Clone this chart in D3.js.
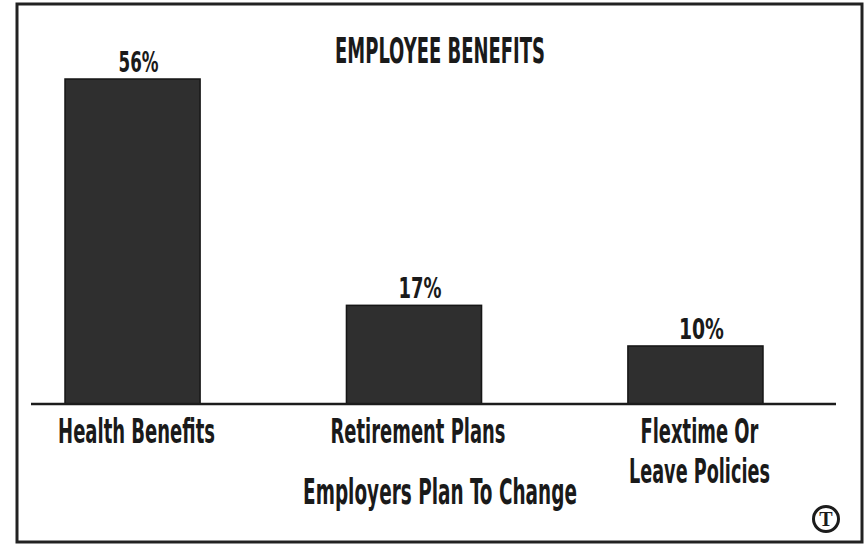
<!DOCTYPE html>
<html>
<head>
<meta charset="utf-8">
<script src="https://cdn.jsdelivr.net/npm/d3@7"></script>
<style>
  body { margin: 0; background: #fff; }
  text { font-family: "Liberation Sans Narrow", "DejaVu Sans Condensed", "Liberation Sans", sans-serif; font-weight: bold; fill: #1a1a1a; }
</style>
</head>
<body>
<div id="container"></div>
<script>
/***** data *****/
const categories = ["Health Benefits", "Retirement Plans", "Flextime Or\nLeave Policies"];
const values = [56, 17, 10];
const valueLabels = ["56%", "17%", "10%"];
const title = "EMPLOYEE BENEFITS";
const xTitle = "Employers Plan To Change";

/***** chart *****/
const width = 866, height = 545;
const baseY = 404;

const svg = d3.select("#container")
  .append("svg")
    .attr("width", width)
    .attr("height", height);

// frame
svg.append("rect")
  .attr("x", 17).attr("y", 4)
  .attr("width", 845).attr("height", 538)
  .attr("fill", "none")
  .attr("stroke", "#222")
  .attr("stroke-width", 3);

const x = d3.scaleBand()
  .domain(categories)
  .range([65, 763])
  .paddingInner(0.52)
  .paddingOuter(0);

const y = d3.scaleLinear()
  .domain([0, d3.max(values)])
  .range([baseY, 79]);

const data = categories.map((c, i) => ({cat: c, value: values[i], label: valueLabels[i]}));

// bars
svg.selectAll(".bar")
  .data(data)
  .join("rect")
    .attr("class", "bar")
    .attr("x", d => x(d.cat))
    .attr("y", d => y(d.value))
    .attr("width", x.bandwidth())
    .attr("height", d => y(0) - y(d.value))
    .attr("fill", "#2f2f2f")
    .attr("stroke", "#161616")
    .attr("stroke-width", 1.5);

// baseline
svg.append("line")
  .attr("x1", 31).attr("x2", 836)
  .attr("y1", baseY).attr("y2", baseY)
  .attr("stroke", "#1c1c1c")
  .attr("stroke-width", 2.5);

// put a text at (cx, by) squeezed to width w (the original face is very condensed)
function place(node, cx, by, w) {
  const nat = node.getComputedTextLength();
  d3.select(node)
    .attr("x", 0).attr("y", 0)
    .attr("transform", `translate(${cx},${by}) scale(${w / nat},1)`);
}

// value labels
const labelW = [40, 43, 45];
svg.selectAll(".val")
  .data(data)
  .join("text")
    .attr("class", "val")
    .attr("text-anchor", "middle")
    .attr("font-size", 28)
    .text(d => d.label)
    .each(function(d, i) {
      place(this, x(d.cat) + x.bandwidth() / 2 + 6, y(d.value) - 7, labelW[i]);
    });

// category labels, one text per line
const catW = [[157], [175], [118, 141]];
const catLines = [];
data.forEach((d, i) => {
  d.cat.split("\n").forEach((line, j) => {
    catLines.push({cat: d.cat, line: line, row: j, w: catW[i][j]});
  });
});
svg.selectAll(".cat")
  .data(catLines)
  .join("text")
    .attr("class", "cat")
    .attr("text-anchor", "middle")
    .attr("font-size", 34)
    .text(d => d.line)
    .each(function(d) {
      place(this, x(d.cat) + x.bandwidth() / 2 + 4, 443 + d.row * 40, d.w);
    });

// title
svg.append("text")
  .attr("text-anchor", "middle")
  .attr("font-size", 35)
  .text(title)
  .each(function() { place(this, 440, 63, 210); });

// axis title
svg.append("text")
  .attr("text-anchor", "middle")
  .attr("font-size", 35)
  .text(xTitle)
  .each(function() { place(this, 440, 504, 274); });

// logo mark
const logo = svg.append("g").attr("transform", "translate(826,519)");
logo.append("circle")
  .attr("r", 12.5)
  .attr("fill", "none")
  .attr("stroke", "#1c1c1c")
  .attr("stroke-width", 3);
logo.append("text")
  .attr("y", 7)
  .attr("text-anchor", "middle")
  .attr("font-size", 20)
  .style("font-family", "Liberation Serif, serif")
  .text("T");
</script>
</body>
</html>
